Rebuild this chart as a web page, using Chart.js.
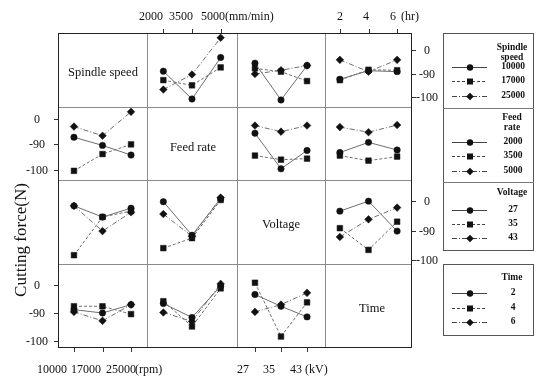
<!DOCTYPE html>
<html>
<head>
<meta charset="utf-8">
<script src="https://cdn.jsdelivr.net/npm/chart.js@4.4.0/dist/chart.umd.min.js"></script>
<style>
body { margin: 0; background: #fff; }
#fig { position: relative; width: 540px; height: 378px; overflow: hidden; font-family: "Liberation Serif", "Times New Roman", serif; color: #111; }
.t { position: absolute; white-space: nowrap; line-height: 1; transform: translate(-50%, -50%); }
.line { position: absolute; }
canvas { position: absolute; }
</style>
</head>
<body>
<div id="fig"></div>
<script>
// factors and their levels
const factors = ['Spindle speed', 'Feed rate', 'Voltage', 'Time'];
const speedLevels = ['10000', '17000', '25000'];
const feedLevels = ['2000', '3500', '5000'];
const voltageLevels = ['27', '35', '43'];
const timeLevels = ['2', '4', '6'];
const yTickValues = [0, -50, -100];
const yTickLabels = ['0', '-90', '-100'];
const yTitle = 'Cutting force(N)';

// row factor = line series, column factor = x axis; 3 series per panel (level 1,2,3 of row factor)
const speed_feed    = [[-45, -104, -16], [-64, -75, -37], [-84, -52, 26]];
const speed_voltage = [[-28, -106, -33], [-39, -46, -66], [-51, -43, -33]];
const speed_time    = [[-62, -44, -46], [-64, -42, -43], [-21, -46, -21]];
const feed_speed    = [[-36, -52, -71], [-102, -69, -50], [-15, -33, 14]];
const feed_voltage  = [[-28, -98, -62], [-72, -80, -78], [-13, -25, -13]];
const feed_time     = [[-66, -46, -61], [-72, -82, -74], [-16, -26, -12]];
const voltage_speed = [[-8, -27, -12], [-92, -27, -17], [-8, -51, -19]];
const voltage_feed  = [[-1, -58, 4], [-80, -63, 2], [-22, -60, 6]];
const voltage_time  = [[-17, 0, -51], [-46, -83, -35], [-61, -31, -11]];
const time_speed    = [[-44, -50, -35], [-38, -38, -52], [-48, -64, -35]];
const time_feed     = [[-33, -58, -2], [-29, -74, -6], [-49, -65, 2]];
const time_voltage  = [[-17, -38, -57], [4, -92, -31], [-48, -35, -14]];

// layout
const colX = [58, 147, 237, 325, 412];
const rowY = [33, 107, 180, 264, 348];
const rowRange = [[-121, 36], [-120, 23.5], [-107, 36], [-112.5, 37.5]];
const colPad = [0.56, 0.57, 0.69, 0.52];
const M = 6;
const styles = [
  { pointStyle: 'circle', radius: 3.2, dash: [] },
  { pointStyle: 'rect', radius: 4, dash: [3, 2] },
  { pointStyle: 'rectRot', radius: 3.8, dash: [5, 2, 1, 2] }
];

const fig = document.getElementById('fig');

function addText(str, x, y, size, extra) {
  const d = document.createElement('div');
  d.className = 't';
  d.textContent = str;
  d.style.left = x + 'px';
  d.style.top = y + 'px';
  d.style.fontSize = size + 'px';
  if (extra) Object.assign(d.style, extra);
  fig.appendChild(d);
  return d;
}

function addLine(x, y, w, h, css) {
  const d = document.createElement('div');
  d.className = 'line';
  d.style.left = x + 'px';
  d.style.top = y + 'px';
  d.style.width = w + 'px';
  d.style.height = h + 'px';
  d.style.background = css;
  fig.appendChild(d);
}

// inner grid lines, outer box
for (let i = 1; i < 4; i++) {
  addLine(colX[i], rowY[0], 1, rowY[4] - rowY[0], '#8a8a8a');
  addLine(colX[0], rowY[i], colX[4] - colX[0], 1, '#8a8a8a');
}
const box = document.createElement('div');
Object.assign(box.style, {
  position: 'absolute', left: colX[0] + 'px', top: rowY[0] + 'px',
  width: (colX[4] - colX[0]) + 'px', height: (rowY[4] - rowY[0]) + 'px',
  border: '1.5px solid #222', boxSizing: 'border-box'
});
fig.appendChild(box);

const edgeTicks = {
  id: 'edgeTicks',
  afterDraw(chart, args, opts) {
    const { ctx, chartArea: a, scales } = chart;
    ctx.save();
    ctx.strokeStyle = '#333';
    ctx.lineWidth = 1;
    ctx.beginPath();
    (opts.sides || []).forEach(s => {
      if (s === 'top' || s === 'bottom') {
        [0, 1, 2].forEach(i => {
          const px = Math.round(scales.x.getPixelForValue(i)) + 0.5;
          const py = s === 'top' ? a.top : a.bottom;
          ctx.moveTo(px, py);
          ctx.lineTo(px, s === 'top' ? py - 4 : py + 4);
        });
      } else {
        yTickValues.forEach(v => {
          const py = Math.round(scales.y.getPixelForValue(v)) + 0.5;
          const px = s === 'left' ? a.left : a.right;
          ctx.moveTo(px, py);
          ctx.lineTo(s === 'left' ? px - 4 : px + 4, py);
        });
      }
    });
    ctx.stroke();
    ctx.restore();
  }
};

function panel(r, c, series, sides) {
  const w = colX[c + 1] - colX[c], h = rowY[r + 1] - rowY[r];
  const cv = document.createElement('canvas');
  cv.width = w + 2 * M;
  cv.height = h + 2 * M;
  cv.style.left = (colX[c] - M) + 'px';
  cv.style.top = (rowY[r] - M) + 'px';
  cv.style.width = cv.width + 'px';
  cv.style.height = cv.height + 'px';
  fig.appendChild(cv);
  return new Chart(cv.getContext('2d'), {
    type: 'line',
    data: {
      datasets: series.map((vals, k) => ({
        data: vals.map((v, i) => ({ x: i, y: v })),
        borderColor: '#6e6e6e',
        borderWidth: 1,
        borderDash: styles[k].dash,
        pointStyle: styles[k].pointStyle,
        pointRadius: styles[k].radius,
        pointBackgroundColor: '#111',
        pointBorderColor: '#111',
        pointBorderWidth: 0.5,
        tension: 0
      }))
    },
    options: {
      responsive: false,
      animation: false,
      devicePixelRatio: 1,
      layout: { padding: M },
      plugins: { legend: { display: false }, tooltip: { enabled: false }, edgeTicks: { sides: sides } },
      scales: {
        x: { type: 'linear', display: false, min: -colPad[c], max: 2 + colPad[c] },
        y: { display: false, min: rowRange[r][0], max: rowRange[r][1] }
      }
    },
    plugins: [edgeTicks]
  });
}

const panels = [
  [0, 1, speed_feed, ['top']], [0, 2, speed_voltage, []], [0, 3, speed_time, ['top', 'right']],
  [1, 0, feed_speed, ['left']], [1, 2, feed_voltage, []], [1, 3, feed_time, []],
  [2, 0, voltage_speed, []], [2, 1, voltage_feed, []], [2, 3, voltage_time, ['right']],
  [3, 0, time_speed, ['left', 'bottom']], [3, 1, time_feed, []], [3, 2, time_voltage, ['bottom']]
];
const charts = panels.map(p => panel(p[0], p[1], p[2], p[3]));

// y tick labels, placed from the panels' own y scales
function yLabels(chart, r, x) {
  const top = rowY[r] - M;
  yTickValues.forEach((v, i) => addText(yTickLabels[i], x, top + chart.scales.y.getPixelForValue(v), 12));
}
yLabels(charts[3], 1, 37);
yLabels(charts[9], 3, 37);
yLabels(charts[2], 0, 427);
yLabels(charts[8], 2, 427);

// diagonal factor names
const diagPos = [[103, 72], [193, 147], [281, 224], [372, 308]];
factors.forEach((f, i) => addText(f, diagPos[i][0], diagPos[i][1], 12.5));

// axis level labels (as printed, not aligned with tick marks)
function levelRow(levels, centers, unit, unitX, y) {
  levels.forEach((l, i) => addText(l, centers[i], y, 12));
  addText(unit, unitX, y, 12, { transform: 'translate(0,-50%)' });
}
levelRow(feedLevels, [151, 181, 213], '(mm/min)', 225, 16);
levelRow(timeLevels, [340, 366, 393], '(hr)', 401, 16);
levelRow(speedLevels, [52, 86, 121], '(rpm)', 135, 369);
levelRow(voltageLevels, [243, 269, 296], '(kV)', 305, 369);

addText(yTitle, 20, 240, 17, { transform: 'translate(-50%,-50%) rotate(-90deg)' });

// legends
const lgBox1 = document.createElement('div');
Object.assign(lgBox1.style, { position: 'absolute', left: '443px', top: '33px', width: '91px', height: '218px', border: '1px solid #555', boxSizing: 'border-box' });
fig.appendChild(lgBox1);
addLine(443, 108, 91, 1, '#777');
addLine(443, 182, 91, 1, '#777');
const lgBox2 = document.createElement('div');
Object.assign(lgBox2.style, { position: 'absolute', left: '443px', top: '264px', width: '91px', height: '72px', border: '1px solid #555', boxSizing: 'border-box' });
fig.appendChild(lgBox2);

const legends = [
  { title: ['Spindle', 'speed'], titleY: [48, 58], levels: speedLevels, rows: [67, 81, 96] },
  { title: ['Feed', 'rate'], titleY: [118, 128], levels: feedLevels, rows: [142, 156, 171] },
  { title: ['Voltage'], titleY: [193], levels: voltageLevels, rows: [210, 224, 238] },
  { title: ['Time'], titleY: [278], levels: timeLevels, rows: [293, 308, 322] }
];
const lg = document.createElement('canvas');
lg.width = 540; lg.height = 378;
lg.style.left = '0px'; lg.style.top = '0px';
fig.appendChild(lg);
const g = lg.getContext('2d');
legends.forEach(L => {
  L.title.forEach((t, i) => addText(t, 512, L.titleY[i], 9.5, { fontWeight: 'bold' }));
  L.levels.forEach((lv, k) => {
    const y = L.rows[k];
    addText(lv, 513, y, 9.5, { fontWeight: 'bold' });
    g.save();
    g.strokeStyle = '#444';
    g.lineWidth = 1;
    g.setLineDash(styles[k].dash);
    g.beginPath(); g.moveTo(452, y + 0.5); g.lineTo(487, y + 0.5); g.stroke();
    g.restore();
    g.fillStyle = '#111';
    g.beginPath();
    if (k === 0) g.arc(470, y + 0.5, 3.2, 0, Math.PI * 2);
    else if (k === 1) g.rect(467, y - 2.5, 6, 6);
    else { g.moveTo(470, y - 3.3); g.lineTo(473.8, y + 0.5); g.lineTo(470, y + 4.3); g.lineTo(466.2, y + 0.5); g.closePath(); }
    g.fill();
  });
});
</script>
</body>
</html>
